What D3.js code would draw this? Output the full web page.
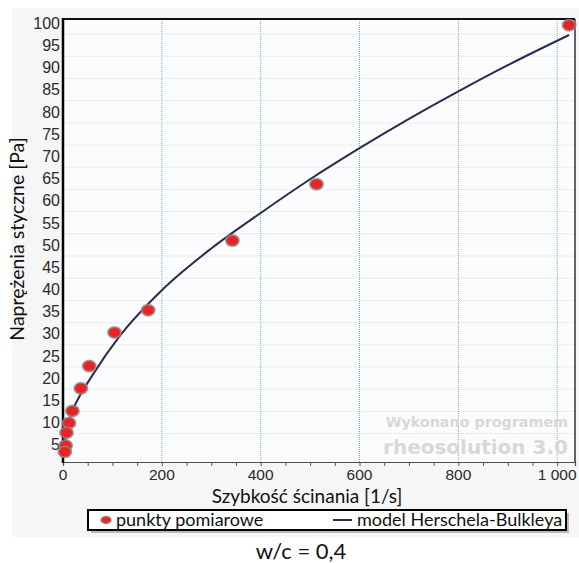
<!DOCTYPE html>
<html>
<head>
<meta charset="utf-8">
<script src="https://cdn.jsdelivr.net/npm/d3@7"></script>
<style>
  body { margin: 0; background: #fff; }
  svg { display: block; }
</style>
</head>
<body>
<svg width="579" height="563"></svg>
<script>
// measured points (shear rate [1/s], shear stress [Pa])
const shearRate = [1022, 511, 340.6, 170.3, 102.2, 51.1, 34.1, 17.0, 10.2, 5.1, 3.4, 1.7];
const shearStress = [99.5, 63.7, 51.0, 35.3, 30.3, 22.7, 17.7, 12.6, 9.9, 7.7, 4.8, 3.4];

// Herschel-Bulkley model line
const modelRate = [1.7, 5, 10, 17, 31, 61, 115, 200, 300, 400, 500, 600, 700, 800, 900, 1024];
const modelStress = [3.4, 6.6, 9.3, 12.1, 15.4, 20.9, 29.5, 39.8, 49.2, 57.2, 64.8, 71.8, 78.4, 84.6, 90.5, 97.3];

const yTicks = d3.range(5, 101, 5);
const yGrid = d3.range(7.5, 100, 5);
const xTicks = [0, 200, 400, 600, 800, 1000];
const xMinor = d3.range(0, 1001, 50);

const svg = d3.select('svg');

const pL = 63, pR = 575, pT = 19, pB = 462;
const x = d3.scaleLinear().domain([0, 1036]).range([pL, pR]);
const y = d3.scaleLinear().domain([1.1, 100.9]).range([pB, pT]);

const textFont = 'Lato, Open Sans, sans-serif';
const tickFont = 'Liberation Sans, Arial, sans-serif';

// light panel behind the chart
svg.append('rect')
  .attr('x', 12).attr('y', 8).attr('width', 567).attr('height', 529)
  .attr('fill', '#f6f6f6');

svg.append('rect')
  .attr('x', pL).attr('y', pT).attr('width', pR - pL).attr('height', pB - pT)
  .attr('fill', '#fbfcfe');

// grid
svg.append('g')
  .selectAll('line')
  .data(yGrid)
  .enter()
  .append('line')
  .attr('x1', pL).attr('x2', pR)
  .attr('y1', d => y(d)).attr('y2', d => y(d))
  .attr('stroke', '#d6dde6')
  .attr('stroke-dasharray', '1,1');

svg.append('g')
  .selectAll('line')
  .data(xTicks.slice(1))
  .enter()
  .append('line')
  .attr('x1', d => x(d)).attr('x2', d => x(d))
  .attr('y1', pT).attr('y2', pB)
  .attr('stroke', '#8fa4b8')
  .attr('stroke-dasharray', '1,1');

// watermark
svg.append('text')
  .attr('x', 568).attr('y', 427)
  .attr('text-anchor', 'end')
  .attr('font-family', 'DejaVu Sans, sans-serif')
  .attr('font-weight', 'bold')
  .attr('font-size', 14.3)
  .attr('fill', '#d8d8d8')
  .text('Wykonano programem');
svg.append('text')
  .attr('x', 568).attr('y', 454)
  .attr('text-anchor', 'end')
  .attr('font-family', 'DejaVu Sans, sans-serif')
  .attr('font-weight', 'bold')
  .attr('font-size', 20)
  .attr('fill', '#d8d8d8')
  .text('rheosolution 3.0');

// frame
svg.append('line')
  .attr('x1', pL).attr('x2', pR).attr('y1', pT).attr('y2', pT)
  .attr('stroke', '#111').attr('stroke-width', 2);
svg.append('line')
  .attr('x1', pR).attr('x2', pR).attr('y1', pT).attr('y2', pB)
  .attr('stroke', '#333').attr('stroke-width', 1.5);

// x axis
const xAxis = svg.append('g')
  .attr('transform', `translate(0,${pB})`)
  .call(d3.axisBottom(x).tickValues(xMinor).tickSize(4).tickFormat(''));
xAxis.select('.domain').attr('stroke', '#5a4a40').attr('stroke-width', 1.2);
xAxis.selectAll('.tick line').attr('stroke', '#555');

svg.append('g')
  .selectAll('text')
  .data(xTicks)
  .enter()
  .append('text')
  .attr('x', d => x(d))
  .attr('y', pB + 18)
  .attr('text-anchor', 'middle')
  .attr('font-family', tickFont)
  .attr('font-size', 15.5)
  .attr('fill', '#2a2a2a')
  .text(d => d === 1000 ? '1 000' : d);

// y axis
svg.append('g')
  .selectAll('text')
  .data(yTicks)
  .enter()
  .append('text')
  .attr('x', pL - 3)
  .attr('y', d => y(d))
  .attr('dy', '0.36em')
  .attr('text-anchor', 'end')
  .attr('font-family', tickFont)
  .attr('font-size', 16)
  .attr('fill', '#2a2a2a')
  .text(d => d);

svg.append('line')
  .attr('x1', pL).attr('x2', pL).attr('y1', pT - 1).attr('y2', pB + 1)
  .attr('stroke', '#000').attr('stroke-width', 2.5);

// model line
const line = d3.line()
  .curve(d3.curveMonotoneX)
  .x((d, i) => x(modelRate[i]))
  .y(d => y(d));

svg.append('path')
  .attr('d', line(modelStress))
  .attr('fill', 'none')
  .attr('stroke', '#2c2a55')
  .attr('stroke-width', 2);

// measured points
svg.append('g')
  .selectAll('ellipse')
  .data(shearStress)
  .enter()
  .append('ellipse')
  .attr('cx', (d, i) => x(shearRate[i]) + 1)
  .attr('cy', d => y(d))
  .attr('rx', 6.5).attr('ry', 5.5)
  .attr('fill', '#ee2020')
  .attr('stroke', '#8a8a8a')
  .attr('stroke-opacity', 0.75)
  .attr('stroke-width', 2);

// axis titles
svg.append('text')
  .attr('transform', 'translate(24,239) rotate(-90)')
  .attr('text-anchor', 'middle')
  .attr('font-family', textFont)
  .attr('font-size', 19.5)
  .attr('fill', '#111')
  .text('Naprężenia styczne [Pa]');

svg.append('text')
  .attr('x', 307).attr('y', 503)
  .attr('text-anchor', 'middle')
  .attr('font-family', textFont)
  .attr('font-size', 19)
  .attr('fill', '#111')
  .text('Szybkość ścinania [1/s]');

// legend
svg.append('rect')
  .attr('x', 91).attr('y', 513).attr('width', 478).attr('height', 20)
  .attr('fill', '#bbb');
svg.append('rect')
  .attr('x', 88).attr('y', 510).attr('width', 478).attr('height', 20)
  .attr('fill', '#fff')
  .attr('stroke', '#000')
  .attr('stroke-width', 2);
svg.append('ellipse')
  .attr('cx', 106).attr('cy', 520).attr('rx', 5).attr('ry', 3.5)
  .attr('fill', '#ee2020')
  .attr('stroke', '#8a8a8a')
  .attr('stroke-width', 1.5);
svg.append('text')
  .attr('x', 116).attr('y', 526)
  .attr('font-family', textFont)
  .attr('font-size', 18)
  .attr('fill', '#111')
  .text('punkty pomiarowe');
svg.append('line')
  .attr('x1', 333).attr('x2', 352).attr('y1', 520).attr('y2', 520)
  .attr('stroke', '#2c2a55').attr('stroke-width', 2);
svg.append('text')
  .attr('x', 357).attr('y', 526)
  .attr('font-family', textFont)
  .attr('font-size', 18)
  .attr('fill', '#111')
  .text('model Herschela-Bulkleya');

// caption
svg.append('text')
  .attr('x', 301).attr('y', 559)
  .attr('text-anchor', 'middle')
  .attr('font-family', textFont)
  .attr('font-size', 22)
  .attr('fill', '#111')
  .text('w/c = 0,4');
</script>
</body>
</html>
